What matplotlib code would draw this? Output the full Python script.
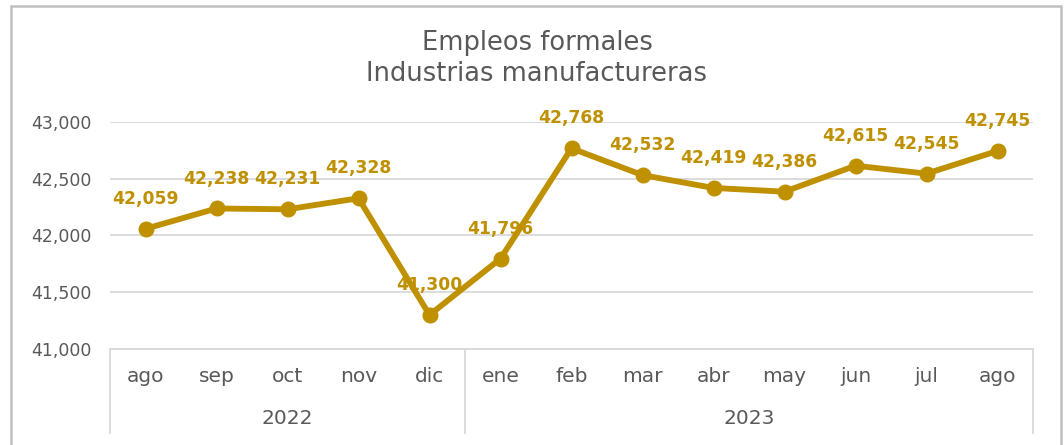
import matplotlib
matplotlib.use("Agg")
from matplotlib import pyplot as plt
from matplotlib.patches import Rectangle
import matplotlib.transforms as mtransforms

# Data
months = ["ago", "sep", "oct", "nov", "dic", "ene", "feb", "mar", "abr", "may", "jun", "jul", "ago"]
years = ["2022", "2023"]
year_counts = [5, 8]
empleos = [42059, 42238, 42231, 42328, 41300, 41796, 42768, 42532, 42419, 42386, 42615, 42545, 42745]
yticks = [41000, 41500, 42000, 42500, 43000]

GOLD = "#BF9000"
GRAY_TEXT = "#595959"
GRID = "#D9D9D9"

plt.rcParams["font.family"] = ["DejaVu Sans"]

fig = plt.figure(figsize=(10.64, 4.45), dpi=100)
W, H = 1064, 445

# Outer frame
fig.patches.append(Rectangle((11 / W, -0.05), (1061 - 11) / W, 1.05 - 6 / H,
                             transform=fig.transFigure, fill=False,
                             edgecolor="#BFBFBF", linewidth=1.8))

ax = fig.add_axes([110 / W, 1 - 349 / H, (1033 - 110) / W, (349 - 122) / H])

x = list(range(len(months)))
ax.plot(x, empleos, color=GOLD, linewidth=4.2, marker="o", markersize=10.5,
        solid_joinstyle="round", zorder=3)

for xi, v in zip(x, empleos):
    ax.annotate(f"{v:,}", (xi, v), xytext=(0, 21.5), textcoords="offset points",
                ha="center", va="center", color=GOLD, fontsize=12.3,
                fontweight="bold", clip_on=False, zorder=4)

ax.set_xlim(-0.5, len(months) - 0.5)
ax.set_ylim(41000, 43000)
ax.set_yticks(yticks)
ax.set_yticklabels([f"{t:,}" for t in yticks])
ax.tick_params(axis="y", length=0, pad=13, labelsize=12.5, labelcolor=GRAY_TEXT)
ax.set_xticks([])
ax.grid(axis="y", color=GRID, linewidth=1.3)
ax.set_axisbelow(True)
for s in ["left", "right", "top"]:
    ax.spines[s].set_visible(False)
ax.spines["bottom"].set_color(GRID)
ax.spines["bottom"].set_linewidth(1.3)

# Multi-level category axis
trans = mtransforms.blended_transform_factory(ax.transData, ax.transAxes)
depth = 84 / (349 - 122)
bounds = [-0.5]
for c in year_counts:
    bounds.append(bounds[-1] + c)
for b in bounds:
    ax.plot([b, b], [0, -depth], transform=trans, color=GRID, linewidth=1.3, clip_on=False)

for xi, m in zip(x, months):
    ax.text(xi, -27 / 227, m, transform=trans, ha="center", va="center",
            fontsize=14.5, color=GRAY_TEXT)
for i, y in enumerate(years):
    mid = (bounds[i] + bounds[i + 1]) / 2
    ax.text(mid, -69 / 227, y, transform=trans, ha="center", va="center",
            fontsize=14.5, color=GRAY_TEXT)

fig.text(537 / W, 1 - 43 / H, "Empleos formales",
         ha="center", va="center", fontsize=18.5, color=GRAY_TEXT)
fig.text(537 / W, 1 - 74 / H, "Industrias manufactureras",
         ha="center", va="center", fontsize=18.5, color=GRAY_TEXT)

fig.savefig("out.png", dpi=100)
